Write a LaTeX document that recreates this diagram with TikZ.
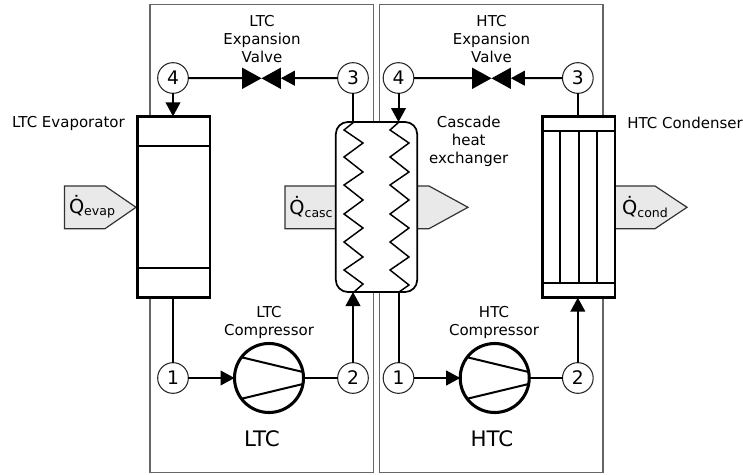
\documentclass[tikz,border=0pt]{standalone}
\usepackage{fontspec}
\setmainfont{DejaVu Sans}
\usetikzlibrary{positioning, arrows.meta}
\definecolor{framegray}{HTML}{666666}
\definecolor{heatfill}{HTML}{E9E9E9}
\newcommand{\heatlabel}[1]{\fontsize{14.5pt}{14.5pt}\selectfont Q^^^^0307\raisebox{-2pt}{\fontsize{9.4pt}{9.4pt}\selectfont #1}}
\tikzset{
	>={Triangle[length=10.5pt,width=11pt]}, % solid heads on the pipes
	every node/.style={font=\fontsize{11.25pt}{13.5pt}\selectfont, text=black, align=center},
	point/.style={circle, draw=black!85, line width=.8pt, fill=white, minimum size=23pt, inner sep=0pt, outer sep=0pt, font=\fontsize{14pt}{14pt}\selectfont}, % numbered state points
	pipe/.style={line width=1.5pt},
	unit/.style={draw, fill=white, line width=2pt, minimum width=54.5pt, minimum height=136pt, inner sep=0pt, outer sep=0pt}, % evaporator, condenser
	exchanger/.style={draw, fill=white, line width=1.3pt, rounded corners=9pt, minimum width=61pt, minimum height=127.5pt, inner sep=0pt, outer sep=0pt},
	compressor/.style={circle, draw, fill=white, line width=2.3pt, minimum size=51.75pt, inner sep=0pt, outer sep=0pt},
	valve/.style={minimum width=29pt, minimum height=16pt, inner sep=0pt, outer sep=0pt, path picture={
		\fill (path picture bounding box.north west) -- (path picture bounding box.south east) -- (path picture bounding box.north east) -- (path picture bounding box.south west) -- cycle;}},
	frame/.style={draw=framegray, line width=.9pt},
	heat/.style={draw=black!80, fill=heatfill, line width=.9pt},
	coil/.style={line width=1.1pt, line join=miter},
}
\begin{document}
\begin{tikzpicture}[x=.75pt, y=-.75pt, on grid]
	\useasboundingbox (0,0) rectangle (743,475);

	% Cycle frames
	\draw[frame] (150,4.7) rectangle (373.5,472.7);
	\draw[frame] (379.5,4.7) rectangle (603,472.7);

	% Heat flows
	\draw[heat] (64.5,186) -- (105,186) -- (136,207.3) -- (105,228.7) -- (64.5,228.7) -- cycle;
	\draw[heat] (285,186) -- (429,186) -- (468,207.3) -- (429,228.7) -- (285,228.7) -- cycle;
	\draw[heat] (605,186) -- (655,186) -- (687,207.3) -- (655,228.7) -- (605,228.7) -- cycle;

	% Define components
	\node[unit] (evap) at (173.5,207) {};
	\node[unit] (cond) at (578.5,207) {};
	\node[exchanger] (casc) at (376.5,207) {};
	\node[compressor] (ltccomp) at (269,378) {};
	\node[compressor] (htccomp) at (494.7,378) {};
	\node[valve] (ltcvalve) at (261.5,78.3) {};
	\node[valve] (htcvalve) at (491.5,78.3) {};

	% Define state points
	\node[point] (ltc4) at (173,78) {4};
	\node[point, right=135pt of ltc4] (ltc3) {3};
	\node[point, below=225pt of ltc4] (ltc1) {1};
	\node[point, below=225pt of ltc3] (ltc2) {2};
	\node[point] (htc4) at (398.5,78) {4};
	\node[point, right=134.5pt of htc4] (htc3) {3};
	\node[point, below=225pt of htc4] (htc1) {1};
	\node[point, below=225pt of htc3] (htc2) {2};

	% Inner parts
	\draw[pipe, line width=1.7pt] (137,146) -- (210,146) (137,267.7) -- (210,267.7);
	\draw[pipe, line width=1.7pt] (542,131) -- (615,131) (542,282.7) -- (615,282.7);
	\draw[pipe] (560,131) -- (560,282.7) (578.5,131) -- (578.5,282.7) (597,131) -- (597,282.7);
	\draw[coil] (354,122) -- (344,130) -- (363,143) -- (344,157) -- (363,172) -- (344,185) -- (363,200) -- (344,214) -- (363,228) -- (344,242) -- (363,257) -- (344,270) -- (363,284) -- (354,292);
	\draw[coil] (399,122) -- (390,130) -- (409,143) -- (390,157) -- (409,172) -- (390,185) -- (409,200) -- (390,214) -- (409,228) -- (390,242) -- (409,257) -- (390,270) -- (409,285) -- (399,292);
	\draw[pipe] (ltccomp.143) -- (ltccomp.10) (ltccomp.217) -- (ltccomp.-10);
	\draw[pipe] (htccomp.143) -- (htccomp.10) (htccomp.217) -- (htccomp.-10);

	% Pipes
	\draw[pipe] (ltc4) -- (ltcvalve);
	\draw[pipe, ->] (ltc3) -- (ltcvalve);
	\draw[pipe, ->] (ltc4) -- (ltc4 |- evap.north);
	\draw[pipe] (ltc3) -- (ltc3 |- casc.north);
	\draw[pipe] (ltc1) -- (ltc1 |- evap.south);
	\draw[pipe, ->] (ltc1) -- (ltccomp);
	\draw[pipe] (ltccomp) -- (ltc2);
	\draw[pipe, ->] (ltc2) -- (ltc2 |- casc.south);
	\draw[pipe] (htc4) -- (htcvalve);
	\draw[pipe, ->] (htc3) -- (htcvalve);
	\draw[pipe, ->] (htc4) -- (htc4 |- casc.north);
	\draw[pipe] (htc3) -- (htc3 |- cond.north);
	\draw[pipe] (htc1) -- (htc1 |- casc.south);
	\draw[pipe, ->] (htc1) -- (htccomp);
	\draw[pipe] (htccomp) -- (htc2);
	\draw[pipe, ->] (htc2) -- (htc2 |- cond.south);

	% Labels
	\node (ltcvalvetext) at (262,39) {LTC\\Expansion\\Valve};
	\node (htcvalvetext) at (491.5,39) {HTC\\Expansion\\Valve};
	\node (ltccomptext) at (269,322) {LTC\\Compressor};
	\node (htccomptext) at (494,322) {HTC\\Compressor};
	\node (evaptext) at (68.5,123) {LTC Evaporator};
	\node (condtext) at (685,123) {HTC Condenser};
	\node (casctext) at (468.7,141) {Cascade\\heat\\exchanger};
	\node[font=\fontsize{16pt}{16pt}\selectfont] (ltctext) at (262,439) {LTC};
	\node[font=\fontsize{16pt}{16pt}\selectfont] (htctext) at (492,439) {HTC};
	\node (qevap) at (92,207) {\heatlabel{evap}};
	\node (qcasc) at (311,207) {\heatlabel{casc}};
	\node (qcond) at (645,207) {\heatlabel{cond}};
\end{tikzpicture}
\end{document}
